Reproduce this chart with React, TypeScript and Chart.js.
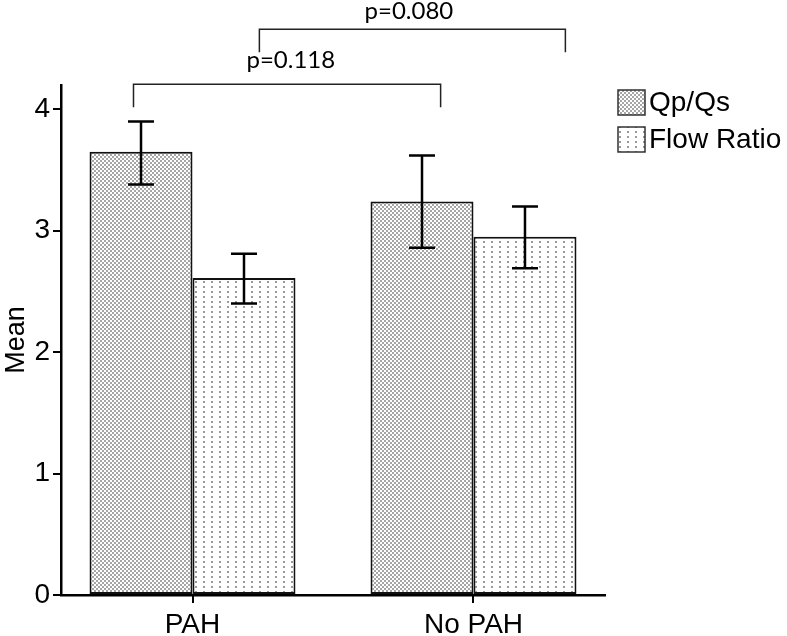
import React, { useEffect, useRef } from "react";
import { Chart, registerables } from "chart.js";

Chart.register(...registerables);

// ---- data ----
const categories = ["PAH", "No PAH"];
const seriesLabels = ["Qp/Qs", "Flow Ratio"];
const qpqsMean = [3.65, 3.24];
const qpqsLow = [3.38, 2.86];
const qpqsHigh = [3.9, 3.62];
const flowMean = [2.61, 2.95];
const flowLow = [2.4, 2.69];
const flowHigh = [2.81, 3.2];
const yTicks = [0, 1, 2, 3, 4];
const pLabels = ["p=0.118", "p=0.080"];

const SANS = "'Liberation Sans', Arial, sans-serif";
const PFONT = "Lato, 'Open Sans', sans-serif";

function makeDensePattern(): CanvasPattern | string {
  const c = document.createElement("canvas");
  c.width = 4;
  c.height = 4;
  const g = c.getContext("2d");
  if (!g) return "#ccc";
  g.fillStyle = "#ffffff";
  g.fillRect(0, 0, 4, 4);
  g.fillStyle = "#a6a6a6";
  g.fillRect(0, 0, 2, 2);
  g.fillRect(2, 2, 2, 2);
  return g.createPattern(c, "repeat") || "#ccc";
}

function makeSparsePattern(): CanvasPattern | string {
  const c = document.createElement("canvas");
  c.width = 8;
  c.height = 5;
  const g = c.getContext("2d");
  if (!g) return "#eee";
  g.fillStyle = "#ffffff";
  g.fillRect(0, 0, 8, 5);
  g.fillStyle = "#9a9a9a";
  g.fillRect(3, 1, 2, 2);
  return g.createPattern(c, "repeat") || "#eee";
}

export default function App() {
  const ref = useRef<HTMLCanvasElement | null>(null);

  useEffect(() => {
    document.body.style.margin = "0";
    const canvas = ref.current;
    if (!canvas) return;
    const dense = makeDensePattern();
    const sparse = makeSparsePattern();
    const errLow = [qpqsLow, flowLow];
    const errHigh = [qpqsHigh, flowHigh];

    const errorBars = {
      id: "errorBars",
      afterDatasetsDraw(chart: any) {
        const ctx = chart.ctx;
        const ys = chart.scales.y;
        ctx.save();
        ctx.strokeStyle = "#000";
        ctx.lineWidth = 2.5;
        chart.data.datasets.forEach((_: any, di: number) => {
          const meta = chart.getDatasetMeta(di);
          meta.data.forEach((bar: any, i: number) => {
            const x = bar.x;
            const yl = ys.getPixelForValue(errLow[di][i]);
            const yh = ys.getPixelForValue(errHigh[di][i]);
            const half = 13;
            ctx.beginPath();
            ctx.moveTo(x, yl);
            ctx.lineTo(x, yh);
            ctx.moveTo(x - half, yl);
            ctx.lineTo(x + half, yl);
            ctx.moveTo(x - half, yh);
            ctx.lineTo(x + half, yh);
            ctx.stroke();
          });
        });
        ctx.restore();
      },
    };

    // bracket layout in data units (x: category index scale, y: value scale)
    const bracketLayout = [
      { x0: -0.21, x1: 0.883, yTop: 4.206, yEnd: 4.016, tx: 0.35, ty: 4.4 },
      { x0: 0.238, x1: 1.327, yTop: 4.66, yEnd: 4.47, tx: 0.77, ty: 4.81 },
    ];

    const annotations = {
      id: "annotations",
      afterDraw(chart: any) {
        const ctx = chart.ctx;
        const xs = chart.scales.x;
        const ys = chart.scales.y;
        ctx.save();
        // category tick marks on the x axis
        ctx.strokeStyle = "#000";
        ctx.lineWidth = 2;
        xs.ticks.forEach((t: any) => {
          const px = Math.round(xs.getPixelForValue(t.value));
          ctx.beginPath();
          ctx.moveTo(px, chart.chartArea.bottom);
          ctx.lineTo(px, chart.chartArea.bottom + 8);
          ctx.stroke();
        });
        // brackets
        ctx.strokeStyle = "#222";
        ctx.lineWidth = 1.5;
        bracketLayout.forEach((b, i) => {
          const x0 = xs.getPixelForValue(b.x0);
          const x1 = xs.getPixelForValue(b.x1);
          const yt = ys.getPixelForValue(b.yTop);
          const ye = ys.getPixelForValue(b.yEnd);
          ctx.beginPath();
          ctx.moveTo(x0, ye);
          ctx.lineTo(x0, yt);
          ctx.lineTo(x1, yt);
          ctx.lineTo(x1, ye);
          ctx.stroke();
          ctx.fillStyle = "#000";
          ctx.font = `24px ${PFONT}`;
          ctx.textAlign = "center";
          ctx.textBaseline = "middle";
          ctx.fillText(pLabels[i], xs.getPixelForValue(b.tx), ys.getPixelForValue(b.ty));
        });
        // legend
        const lx = chart.chartArea.right + 13;
        let ly = chart.chartArea.top + 5;
        chart.data.datasets.forEach((ds: any) => {
          ctx.fillStyle = ds.backgroundColor;
          ctx.fillRect(lx, ly, 27, 25);
          ctx.strokeStyle = "#333";
          ctx.lineWidth = 1.5;
          ctx.strokeRect(lx, ly, 27, 25);
          ctx.fillStyle = "#000";
          ctx.font = `28px ${SANS}`;
          ctx.textAlign = "left";
          ctx.textBaseline = "middle";
          ctx.fillText(ds.label, lx + 31, ly + 13);
          ly += 37;
        });
        ctx.restore();
      },
    };

    const tickFont = { family: SANS, size: 28 };

    const chart = new Chart(canvas, {
      type: "bar",
      data: {
        datasets: [
          {
            label: seriesLabels[0],
            data: qpqsMean.map((y, i) => ({ x: i, y })),
            backgroundColor: dense as any,
            borderColor: "#111",
            borderWidth: 2,
            borderSkipped: false,
          },
          {
            label: seriesLabels[1],
            data: flowMean.map((y, i) => ({ x: i, y })),
            backgroundColor: sparse as any,
            borderColor: "#111",
            borderWidth: 2,
            borderSkipped: false,
          },
        ],
      },
      options: {
        responsive: false,
        animation: false,
        layout: { padding: { top: 85, right: 182, left: 0, bottom: 0 } },
        datasets: { bar: { categoryPercentage: 0.733, barPercentage: 1 } },
        plugins: { legend: { display: false }, tooltip: { enabled: false } },
        scales: {
          x: {
            type: "linear",
            min: -0.468,
            max: 1.468,
            offset: false,
            grid: { offset: false, drawOnChartArea: false, drawTicks: true, tickLength: 8, color: "#000", lineWidth: 2 },
            border: { display: true, color: "#000", width: 2.5 },
            ticks: {
              font: tickFont,
              color: "#000",
              padding: 5,
              autoSkip: false,
              maxRotation: 0,
              callback: (v: any) => categories[v] ?? "",
            },
            afterBuildTicks: (s: any) => {
              s.ticks = categories.map((_, i) => ({ value: i }));
            },
            afterFit: (s: any) => {
              s.height = 41;
            },
          },
          y: {
            min: 0,
            max: 4.2,
            grid: { drawOnChartArea: false, drawTicks: true, tickLength: 8, color: "#000", lineWidth: 2 },
            border: { display: true, color: "#000", width: 2.5 },
            ticks: { font: tickFont, color: "#000", padding: 3, callback: (v: any) => String(v) },
            afterBuildTicks: (s: any) => {
              s.ticks = yTicks.map((v) => ({ value: v }));
            },
            afterFit: (s: any) => {
              s.width = 61;
            },
            title: {
              display: true,
              text: "Mean",
              color: "#000",
              font: { family: SANS, size: 27 },
              padding: 0,
            },
          },
        },
      },
      plugins: [errorBars, annotations],
    } as any);

    return () => chart.destroy();
  }, []);

  return (
    <div style={{ width: 787, height: 636, background: "#fff" }}>
      <canvas ref={ref} width={787} height={636} style={{ display: "block" }} />
    </div>
  );
}
